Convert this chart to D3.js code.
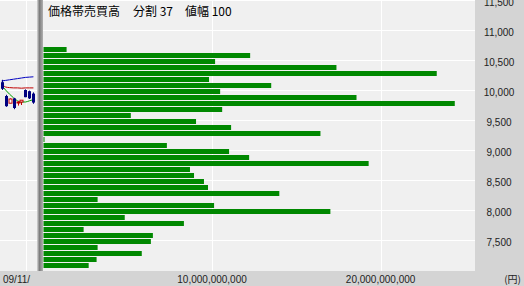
<!DOCTYPE html>
<html><head><meta charset="utf-8">
<script src="https://cdn.jsdelivr.net/npm/d3@7"></script>
<style>body{margin:0;background:#fff}svg{display:block}</style>
</head><body>
<div id="chart"></div>
<script>
// ---- data ----
const binCount = 37;
const binWidth = 100;
const lowestPrice = 7015;
// volume (yen) per price band, top (highest price) to bottom
const volumes = [1.37e9, 12.26e9, 10.18e9, 17.38e9, 23.33e9, 9.82e9, 13.51e9, 10.48e9, 18.57e9, 24.40e9,
  10.60e9, 5.18e9, 9.05e9, 11.13e9, 16.43e9, 0.06e9, 7.32e9, 11.01e9, 12.20e9, 19.29e9,
  8.69e9, 8.93e9, 9.52e9, 9.76e9, 13.99e9, 3.21e9, 10.12e9, 17.02e9, 4.82e9, 8.33e9,
  2.38e9, 6.49e9, 6.37e9, 3.21e9, 5.83e9, 3.15e9, 2.68e9];
const priceTicks = [7500, 8000, 8500, 9000, 9500, 10000, 10500, 11000, 11500];
const valueTicks = [10e9, 20e9];
const dateLabel = "09/11/";
const unitLabel = "(円)";
const titleParts = ["価格帯売買高", "分割 37", "値幅 100"];
// small price chart in the left panel: open, high, low, close
const candles = [
  {o: 10130, h: 10170, l: 10000, c: 10020},
  {o: 9900, h: 9920, l: 9720, c: 9730},
  {o: 9780, h: 9860, l: 9780, c: 9850},
  {o: 9860, h: 9870, l: 9680, c: 9700},
  {o: 9790, h: 9810, l: 9740, c: 9800},
  {o: 9800, h: 9820, l: 9750, c: 9830},
  {o: 10000, h: 10010, l: 9880, c: 9880},
  {o: 9980, h: 9990, l: 9850, c: 9860},
  {o: 9940, h: 9960, l: 9770, c: 9790}
];
const maBlue = [10150, 10160, 10170, 10180, 10190, 10200, 10210, 10215, 10220];
const maRed = [10110, 10050, 10040, 10035, 10035, 10030, 10035, 10035, 10035];
const maGreen = [10080, 10000, 9930, 9870, 9820, 9800, 9800, 9820, 9840];

// ---- layout ----
const W = 524, H = 286;
const plotL = 43.5, plotR = 475, plotB = 271;
const leftR = 37;

const svg = d3.select("#chart").append("svg").attr("width", W).attr("height", H);

const y = d3.scaleLinear().domain([11500 - plotB / 0.06, 11500]).range([plotB, 0]);
const x = d3.scaleLinear().domain([0, 25.6e9]).range([plotL, plotR]);

// backgrounds
svg.append("rect").attr("x", 0).attr("y", 0).attr("width", W).attr("height", H).attr("fill", "#f0f0f0");
svg.append("rect").attr("x", plotR).attr("y", 0).attr("width", W - plotR).attr("height", plotB).attr("fill", "#d4d4d4");
svg.append("rect").attr("x", 0).attr("y", plotB).attr("width", W).attr("height", H - plotB).attr("fill", "#d4d4d4");

// gridlines
const grid = svg.append("g").attr("stroke", "#ffffff").attr("stroke-width", 1);
grid.selectAll("line.h").data(priceTicks).join("line")
  .attr("x1", 0).attr("x2", plotR)
  .attr("y1", d => Math.round(y(d)) + 0.5).attr("y2", d => Math.round(y(d)) + 0.5);
grid.selectAll("line.v").data(valueTicks).join("line")
  .attr("x1", d => Math.round(x(d)) + 0.5).attr("x2", d => Math.round(x(d)) + 0.5)
  .attr("y1", 0).attr("y2", plotB);
grid.append("line").attr("x1", 26.5).attr("x2", 26.5).attr("y1", 0).attr("y2", plotB);

// left panel mini price chart
const cx = d3.scaleBand().domain(d3.range(candles.length)).range([-1, 36]).padding(0.3);
const lineGen = d3.line().x((d, i) => cx(i) + cx.bandwidth() / 2).y(d => y(d)).curve(d3.curveMonotoneX);
const lp = svg.append("g");
lp.append("path").datum(maBlue).attr("d", lineGen).attr("fill", "none").attr("stroke", "#0000c0").attr("stroke-width", 1);
lp.append("path").datum(maRed).attr("d", lineGen).attr("fill", "none").attr("stroke", "#c00000").attr("stroke-width", 1);
lp.append("path").datum(maGreen).attr("d", lineGen).attr("fill", "none").attr("stroke", "#00a000").attr("stroke-width", 1);
const cg = lp.selectAll("g.c").data(candles).join("g");
cg.append("line")
  .attr("x1", (d, i) => Math.round(cx(i) + cx.bandwidth() / 2) + 0.5)
  .attr("x2", (d, i) => Math.round(cx(i) + cx.bandwidth() / 2) + 0.5)
  .attr("y1", d => y(d.h)).attr("y2", d => y(d.l))
  .attr("stroke", d => d.c >= d.o ? "#c00000" : "#000080");
cg.append("rect")
  .attr("x", (d, i) => Math.round(cx(i) + cx.bandwidth() / 2) - 1)
  .attr("width", 3)
  .attr("y", d => y(Math.max(d.o, d.c)))
  .attr("height", d => Math.max(1, y(Math.min(d.o, d.c)) - y(Math.max(d.o, d.c))))
  .attr("fill", d => d.c >= d.o ? "#ffffff" : "#000080")
  .attr("stroke", d => d.c >= d.o ? "#c00000" : "none")
  .attr("stroke-width", 1);

// separator bar
const sepG = svg.append("defs").append("linearGradient").attr("id", "sep").attr("x1", 0).attr("x2", 1).attr("y1", 0).attr("y2", 0);
sepG.append("stop").attr("offset", "0%").attr("stop-color", "#d8d8d8");
sepG.append("stop").attr("offset", "40%").attr("stop-color", "#7a7a7a");
sepG.append("stop").attr("offset", "100%").attr("stop-color", "#b0b0b0");
svg.append("rect").attr("x", leftR).attr("y", 0).attr("width", 6).attr("height", plotB).attr("fill", "url(#sep)");

// bars
const bins = volumes.map((v, i) => ({low: lowestPrice + binWidth * (binCount - 1 - i), v}));
svg.append("g").selectAll("rect").data(bins).join("rect")
  .attr("x", x(0))
  .attr("y", d => Math.round(y(d.low + binWidth)))
  .attr("width", d => Math.max(1, x(d.v) - x(0)))
  .attr("height", d => Math.round(y(d.low)) - Math.round(y(d.low + binWidth)) - 1)
  .attr("fill", "#008800");

// title
const tx = [48, 133, 185];
svg.append("g").selectAll("text").data(titleParts).join("text")
  .attr("x", (d, i) => tx[i]).attr("y", 16)
  .attr("font-family", "'Noto Sans CJK JP', sans-serif").attr("font-size", 12)
  .attr("fill", "#000").text(d => d);

// price axis labels
const fmt = d3.format(",");
svg.append("g").selectAll("text").data(priceTicks).join("text")
  .attr("x", 499).attr("y", d => y(d) + 6)
  .attr("text-anchor", "middle")
  .attr("font-family", "'Liberation Sans', sans-serif").attr("font-size", 10)
  .attr("fill", "#222").text(d => fmt(d));

// value axis labels
svg.append("g").selectAll("text").data(valueTicks).join("text")
  .attr("x", d => x(d)).attr("y", 283)
  .attr("text-anchor", "middle")
  .attr("font-family", "'Liberation Sans', sans-serif").attr("font-size", 10)
  .attr("fill", "#222").text(d => fmt(d));

svg.append("text").attr("x", 3).attr("y", 283)
  .attr("font-family", "'Liberation Sans', sans-serif").attr("font-size", 10)
  .attr("fill", "#222").text(dateLabel);
svg.append("text").attr("x", 521).attr("y", 283).attr("text-anchor", "end")
  .attr("font-family", "'Noto Sans CJK JP', sans-serif").attr("font-size", 10)
  .attr("fill", "#222").text(unitLabel);
</script>
</body></html>
